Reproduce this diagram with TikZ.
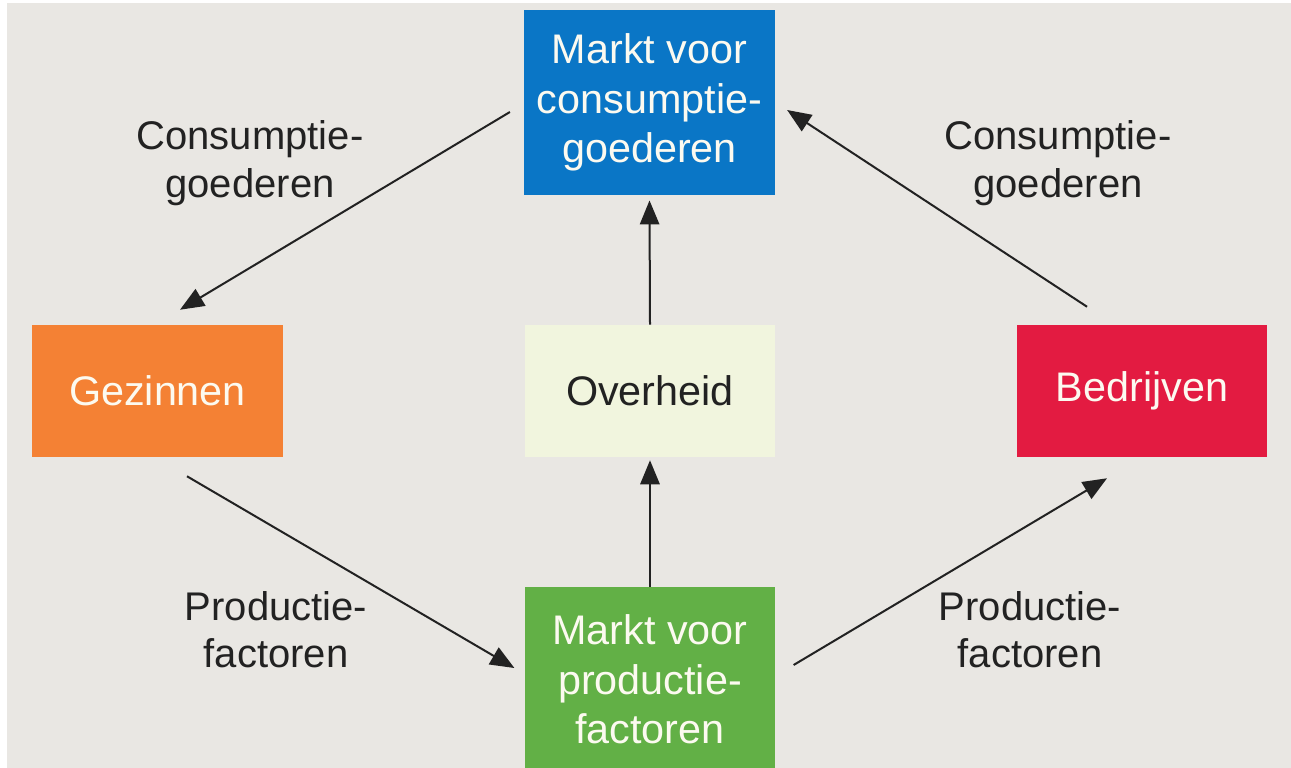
\documentclass[tikz,border=0pt]{standalone}
\usepackage{fontspec}
\setmainfont{Liberation Sans}
\usetikzlibrary{arrows.meta,calc}
\definecolor{bgc}{HTML}{E9E7E3}
\definecolor{cblue}{HTML}{0A76C6}
\definecolor{corange}{HTML}{F48134}
\definecolor{cred}{HTML}{E31B41}
\definecolor{cgreen}{HTML}{62B046}
\definecolor{cpale}{HTML}{F1F5DE}
\definecolor{ctext}{HTML}{222222}
\definecolor{cwhite}{HTML}{FCFAF0}
\begin{document}
\begin{tikzpicture}[x=0.75pt,y=-0.75pt,
  box/.style={rectangle,inner sep=0pt,align=center,font=\fontsize{31pt}{37pt}\selectfont,text=cwhite},
  bigbox/.style={box,minimum width=188pt,minimum height=139pt},
  smallbox/.style={box,minimum width=188pt,minimum height=99pt},
  lbl/.style={inner sep=0pt,align=center,font=\fontsize{30pt}{35.5pt}\selectfont,text=ctext},
  arr/.style={draw=ctext,line width=1.5pt,-{Triangle[length=18pt,width=14.5pt]}}]
\useasboundingbox (0,0) rectangle (1291,767);
\begin{scope}
\clip (0,0) rectangle (1291,767);
\fill[white] (0,0) rectangle (1291,767);
\fill[bgc] (7,3) rectangle (1292,768);
\node[bigbox,fill=cblue] (cg) at (649.5,102.5) {Markt voor\\consumptie-\\goederen};
\node[bigbox,fill=cgreen] (pf) at (650,679.5) {Markt voor\\productie-\\factoren};
\node[smallbox,fill=corange,text depth=0pt] (gez) at (157.5,391) {Gezinnen};
\node[smallbox,fill=cpale,text=ctext,text depth=0pt] (ov) at (650,391) {Overheid};
\node[smallbox,fill=cred] (bed) at (1142,391) {Bedrijven};
\end{scope}
\node[lbl] (l1) at (250,163) {Consumptie-\\goederen};
\node[lbl] (l2) at (1058,163) {Consumptie-\\goederen};
\node[lbl] (l3) at (276,629.5) {Productie-\\factoren};
\node[lbl] (l4) at (1030,629.5) {Productie-\\factoren};
\draw[arr] (ov.north) -- ($(cg.south)+(0,5)$);
\draw[arr] (pf.north) -- ($(ov.south)+(0,3)$);
\draw[arr] ($(cg.west)+(-14,9.5)$) -- ($(gez.north)+(22.5,-15)$);
\draw[arr] ($(bed.north)+(-55,-18)$) -- ($(cg.east)+(12,7.5)$);
\draw[arr] ($(gez.south)+(29.5,19)$) -- ($(pf.west)+(-10,-11.5)$);
\draw[arr] ($(pf.east)+(18,-14.5)$) -- ($(bed.south)+(-35,21)$);
\end{tikzpicture}
\end{document}
